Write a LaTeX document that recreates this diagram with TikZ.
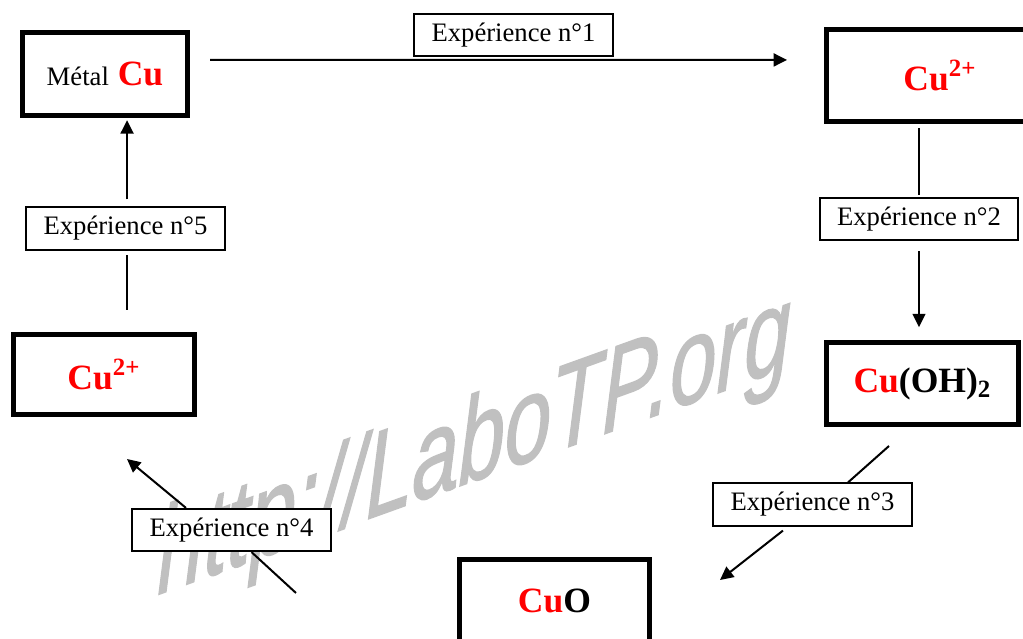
\documentclass[tikz,border=0pt]{standalone}
\usepackage{fontspec}
\setmainfont{Liberation Serif}
\newfontfamily\filigfont[FakeBold=1.3]{Liberation Sans}
\usetikzlibrary{arrows.meta}
\definecolor{filigrane}{RGB}{192,192,192}
\tikzset{
	corps/.style={draw, line width=2.25pt, fill=white, inner sep=0pt, font=\fontsize{16}{19}\selectfont\bfseries},
	etiquette/.style={draw, line width=0.8pt, fill=white, minimum width=89.3pt, minimum height=19.1pt, inner sep=0pt, font=\fontsize{12}{14}\selectfont},
	trait/.style={line width=0.9pt},
	fleche/.style={line width=0.9pt, -{Triangle[length=6pt,width=5.8pt]}}
}
\newcommand{\rcu}{\textcolor{red}{Cu}}

\begin{document}
\begin{tikzpicture}[x=0.45pt, y=-0.45pt]
		%%%%% START %%%%%
		\useasboundingbox (0,0) rectangle (1023,639);
		
		\node[font=\filigfont\itshape\fontsize{37.5}{37.5}\selectfont, text=filigrane, yslant=0.36, yscale=1.45, anchor=base west, inner sep=0pt] (filig) at (157,595) {http://LaboTP.org};
		
		\node[corps, minimum width=74.25pt, minimum height=37.35pt] (metal) at (105,74) {{\mdseries\fontsize{12}{14}\selectfont Métal} \rcu};
		\node[corps, minimum width=102.2pt, minimum height=41.4pt] (cuA) at (940,75.5) {\textcolor{red}{Cu\textsuperscript{2+}}};
		\node[corps, minimum width=86.4pt, minimum height=36.9pt] (cuoh) at (922.5,383.5) {\rcu(OH)\textsubscript{2}};
		\node[corps, minimum width=85.5pt, minimum height=36.9pt] (cuo) at (554.5,600.5) {\rcu O};
		\node[corps, minimum width=81.45pt, minimum height=36pt] (cuB) at (104,374.5) {\textcolor{red}{Cu\textsuperscript{2+}}};
		
		\node[etiquette] (exp1) at (513.5,35) {Expérience n°1};
		\node[etiquette] (exp2) at (919,219) {Expérience n°2};
		\node[etiquette] (exp3) at (812.5,504.5) {Expérience n°3};
		\node[etiquette] (exp4) at (231.5,530) {Expérience n°4};
		\node[etiquette] (exp5) at (125.5,228.5) {Expérience n°5};
		
		\coordinate (c3) at (889,446);
		\coordinate (c3b) at (720,580);
		\coordinate (c4) at (296,593);
		\coordinate (c4b) at (127,459);
		\coordinate (c5) at (127,310);
		
		% n°1
		\draw[fleche, shorten <=9pt, shorten >=16.6pt] ([yshift=6.3pt]metal.east) -- ([yshift=7pt]cuA.west);
		
		% n°2
		\draw[trait, shorten <=1pt, shorten >=1.8pt] (exp2.north) -- (exp2.north |- cuA.south);
		\draw[fleche, shorten <=4.5pt, shorten >=5.8pt] (exp2.south) -- (exp2.south |- cuoh.north);
		
		% n°3
		\draw[trait] (c3) -- ([xshift=16pt]exp3.north);
		\draw[fleche] ([xshift=-13.3pt, yshift=-1.8pt]exp3.south) -- (c3b);
		
		% n°4
		\draw[trait] (c4) -- ([xshift=9pt]exp4.south);
		\draw[fleche] ([xshift=-20.5pt]exp4.north) -- (c4b);
		
		% n°5
		\draw[trait, shorten >=1.8pt] (c5) -- (c5 |- exp5.south);
		\draw[fleche, shorten <=3.2pt, shorten >=1pt] ([xshift=0.7pt]exp5.north) -- ([xshift=0.7pt]exp5.north |- metal.south);
		
		%%%%% END %%%%%
	\end{tikzpicture}
\end{document}
